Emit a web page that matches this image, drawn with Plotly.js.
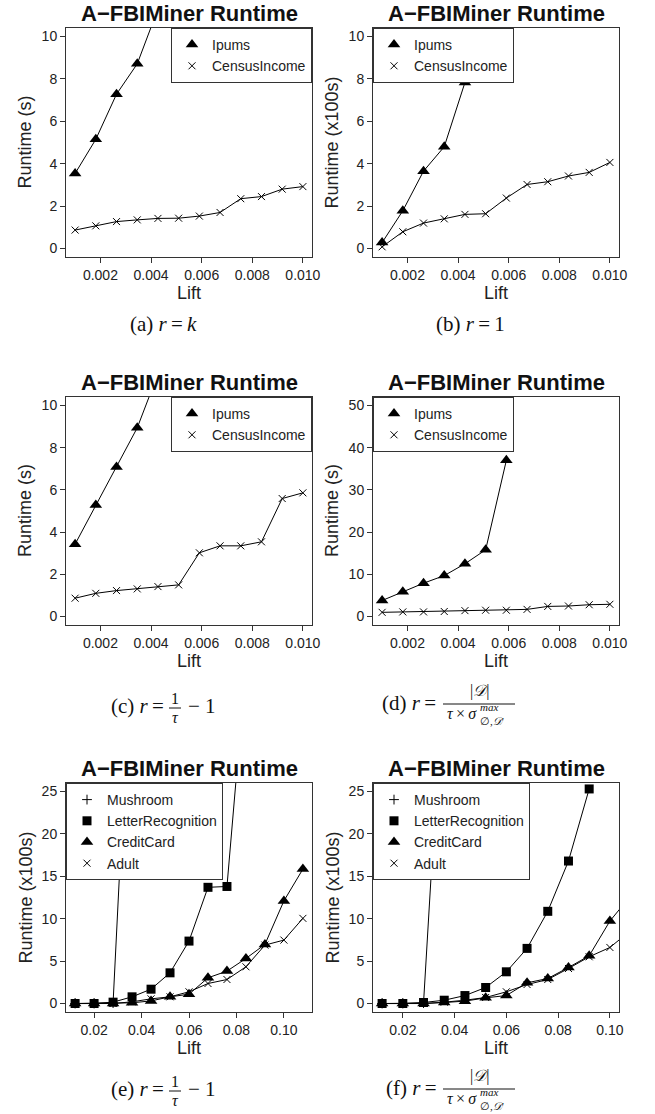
<!DOCTYPE html>
<html>
<head>
<meta charset="utf-8">
<script src="https://cdn.plot.ly/plotly-3.0.1.min.js"></script>
<style>html,body{margin:0;padding:0;background:#fff;}#chart{width:655px;height:1114px;}</style>
</head>
<body>
<div id="chart"></div>
<script>
// ---------------- data ----------------
const liftSmall = [0.001, 0.001818, 0.002636, 0.003455, 0.004273, 0.005091, 0.005909, 0.006727, 0.007545, 0.008364, 0.009182, 0.010];
const liftLarge = [0.012, 0.020, 0.028, 0.036, 0.044, 0.052, 0.060, 0.068, 0.076, 0.084, 0.092, 0.100, 0.108];

const aIpums  = [3.54, 5.15, 7.28, 8.71, 11.3];
const aCensus = [0.87, 1.07, 1.27, 1.35, 1.42, 1.43, 1.53, 1.70, 2.35, 2.45, 2.80, 2.92];
const bIpums  = [0.28, 1.78, 3.65, 4.80, 7.83];
const bCensus = [0.08, 0.79, 1.20, 1.40, 1.61, 1.64, 2.38, 3.02, 3.15, 3.42, 3.59, 4.06];
const cIpums  = [3.43, 5.28, 7.09, 8.94, 11.5];
const cCensus = [0.87, 1.10, 1.23, 1.31, 1.42, 1.50, 3.02, 3.35, 3.35, 3.54, 5.59, 5.86];
const dIpums  = [3.8, 5.9, 7.9, 9.7, 12.5, 15.8, 37.0];
const dCensus = [1.0, 1.1, 1.1, 1.2, 1.4, 1.5, 1.5, 1.7, 2.4, 2.5, 2.8, 2.9];

const eMushroom = [0, 0, 0.05, 45];
const eLetter   = [0, 0, 0.16, 0.79, 1.69, 3.62, 7.36, 13.7, 13.8, 40];
const eCredit   = [0, 0, 0, 0.08, 0.31, 0.79, 1.10, 3.03, 3.82, 5.31, 6.97, 12.1, 15.85];
const eAdult    = [0, 0, 0, 0.2, 0.55, 0.79, 1.38, 2.36, 2.83, 4.33, 6.89, 7.48, 10.04];

const fMushroom = [0, 0, 0.05, 41];
const fLetter   = [0, 0, 0.12, 0.39, 0.94, 1.89, 3.74, 6.5, 10.87, 16.8, 25.3];
const fCredit   = [0, 0, 0, 0.12, 0.28, 0.67, 0.94, 2.44, 2.95, 4.25, 5.63, 9.72, 12.7];
const fAdult    = [0, 0, 0, 0.16, 0.39, 0.71, 1.38, 2.24, 2.83, 4.13, 5.51, 6.61, 8.6];

const chartTitle = "A\u2212FBIMiner Runtime";
const xTitle = "Lift";
const yTitles = ["Runtime (s)", "Runtime (x100s)", "Runtime (s)", "Runtime (s)", "Runtime (x100s)", "Runtime (x100s)"];

// ---------------- layout helpers ----------------
const W = 655, H = 1114;
const px = x => x / W;
const py = y => 1 - y / H;
const SANS = "Liberation Sans, Arial, Helvetica, sans-serif";
const SERIF = "Liberation Serif, Times New Roman, DejaVu Serif, serif";

const panels = [
  {x0: 66,  x1: 312, y0: 28,  y1: 257},
  {x0: 373, x1: 619, y0: 28,  y1: 257},
  {x0: 66,  x1: 312, y0: 397, y1: 625},
  {x0: 373, x1: 619, y0: 397, y1: 625},
  {x0: 66,  x1: 312, y0: 783, y1: 1012},
  {x0: 373, x1: 619, y0: 783, y1: 1012}
];
const xRanges = [[0.00064, 0.01036], [0.00064, 0.01036], [0.00064, 0.01036], [0.00064, 0.01036], [0.00816, 0.11184], [0.00848, 0.10352]];
const yRanges = [[-0.4, 10.4], [-0.4, 10.4], [-0.4, 10.4], [-2, 52], [-1, 26], [-1, 26]];
const xTick = [[0.002, 0.002, '.3f'], [0.002, 0.002, '.3f'], [0.002, 0.002, '.3f'], [0.002, 0.002, '.3f'], [0.02, 0.02, '.2f'], [0.02, 0.02, '.2f']];
const yDtick = [2, 2, 2, 10, 5, 5];
const legendLeft = [false, true, false, true, true, true];

const traces = [];
const SYM = {
  tri:   {symbol: 'triangle-up', size: 11, color: 'black', line: {width: 0}},
  x:     {symbol: 'x-thin-open', size: 7, color: 'black', line: {width: 1, color: 'black'}},
  sq:    {symbol: 'square', size: 9, color: 'black', line: {width: 0}},
  cross: {symbol: 'cross-thin-open', size: 7, color: 'black', line: {width: 1, color: 'black'}}
};

function addSeries(i, name, xs, ys, sym) {
  const k = i === 0 ? '' : String(i + 1);
  const xx = xs.slice(0, ys.length);
  traces.push({type: 'scatter', mode: 'lines', x: xx, y: ys, xaxis: 'x' + k, yaxis: 'y' + k,
    line: {color: 'black', width: 1}, showlegend: false, hoverinfo: 'skip'});
  traces.push({type: 'scatter', mode: 'markers', x: xx, y: ys, xaxis: 'x' + k, yaxis: 'y' + k,
    name: name, legend: 'legend' + k, marker: SYM[sym], showlegend: true, hoverinfo: 'skip'});
}

addSeries(0, 'Ipums', liftSmall, aIpums, 'tri');
addSeries(0, 'CensusIncome', liftSmall, aCensus, 'x');
addSeries(1, 'Ipums', liftSmall, bIpums, 'tri');
addSeries(1, 'CensusIncome', liftSmall, bCensus, 'x');
addSeries(2, 'Ipums', liftSmall, cIpums, 'tri');
addSeries(2, 'CensusIncome', liftSmall, cCensus, 'x');
addSeries(3, 'Ipums', liftSmall, dIpums, 'tri');
addSeries(3, 'CensusIncome', liftSmall, dCensus, 'x');
addSeries(4, 'Mushroom', liftLarge, eMushroom, 'cross');
addSeries(4, 'LetterRecognition', liftLarge, eLetter, 'sq');
addSeries(4, 'CreditCard', liftLarge, eCredit, 'tri');
addSeries(4, 'Adult', liftLarge, eAdult, 'x');
addSeries(5, 'Mushroom', liftLarge, fMushroom, 'cross');
addSeries(5, 'LetterRecognition', liftLarge, fLetter, 'sq');
addSeries(5, 'CreditCard', liftLarge, fCredit, 'tri');
addSeries(5, 'Adult', liftLarge, fAdult, 'x');

const layout = {
  width: W, height: H,
  margin: {l: 0, r: 0, t: 0, b: 0},
  paper_bgcolor: 'white', plot_bgcolor: 'white',
  font: {family: SANS, color: '#222', size: 14},
  showlegend: true,
  annotations: [], shapes: []
};

const axCommon = {
  showline: true, mirror: true, linecolor: '#333', linewidth: 1,
  ticks: 'outside', ticklen: 5, tickwidth: 1, tickcolor: '#333',
  showgrid: false, zeroline: false, fixedrange: true,
  tickfont: {family: SANS, size: 14, color: '#222'}
};

panels.forEach((p, i) => {
  const k = i === 0 ? '' : String(i + 1);
  layout['xaxis' + k] = Object.assign({}, axCommon, {
    domain: [px(p.x0), px(p.x1)], anchor: 'y' + k, range: xRanges[i],
    tick0: xTick[i][0], dtick: xTick[i][1], tickformat: xTick[i][2]
  });
  layout['yaxis' + k] = Object.assign({}, axCommon, {
    domain: [py(p.y1), py(p.y0)], anchor: 'x' + k, range: yRanges[i],
    tick0: 0, dtick: yDtick[i]
  });
  layout['legend' + k] = {
    x: legendLeft[i] ? px(p.x0) : px(p.x1), xanchor: legendLeft[i] ? 'left' : 'right',
    y: py(p.y0), yanchor: 'top',
    bgcolor: 'white', bordercolor: '#333', borderwidth: 1,
    font: {family: SANS, size: 14, color: '#222'},
    tracegroupgap: 0, itemclick: false, itemdoubleclick: false
  };
  const cx = (p.x0 + p.x1) / 2, cy = (p.y0 + p.y1) / 2;
  layout.annotations.push({
    xref: 'paper', yref: 'paper', x: px(cx), y: py(p.y0 - 14.5), xanchor: 'center', yanchor: 'middle',
    text: '<b>' + chartTitle + '</b>', showarrow: false, font: {family: SANS, size: 22, color: '#111'}
  });
  layout.annotations.push({
    xref: 'paper', yref: 'paper', x: px(cx), y: py(p.y1 + 36), xanchor: 'center', yanchor: 'middle',
    text: xTitle, showarrow: false, font: {family: SANS, size: 18, color: '#222'}
  });
  layout.annotations.push({
    xref: 'paper', yref: 'paper', x: px(p.x0 - 41), y: py(cy), xanchor: 'center', yanchor: 'middle',
    text: yTitles[i], textangle: -90, showarrow: false, font: {family: SANS, size: 18, color: '#222'}
  });
});

// ---------------- captions ----------------
function txt(x, y, text, anchor, size) {
  layout.annotations.push({xref: 'paper', yref: 'paper', x: px(x), y: py(y), xanchor: anchor || 'center', yanchor: 'middle',
    text: text, showarrow: false, borderpad: 0, align: 'left',
    font: {family: SERIF, size: size || 21, color: '#111'}});
}
function bar(x0, x1, y) {
  layout.shapes.push({type: 'line', xref: 'paper', yref: 'paper', x0: px(x0), x1: px(x1), y0: py(y), y1: py(y), line: {color: '#111', width: 1}});
}
// (a), (b)
txt(163, 324, '(a) <i>r</i>\u2009=\u2009<i>k</i>');
txt(470, 324, '(b) <i>r</i>\u2009=\u20091');
// (c), (e): r = 1/tau - 1
function capTau(label, dy) {
  txt(165, 1089 + dy, label + ' <i>r</i>\u2009=', 'right');
  txt(175, 1081 + dy, '1', 'center', 16);
  bar(169, 181, 1091 + dy);
  txt(175, 1100 + dy, '<i>\u03C4</i>', 'center', 16);
  txt(187, 1089 + dy, '\u2212 1', 'left');
}
capTau('(c)', -383);
capTau('(e)', 0);
// (d), (f): r = |D| / (tau x sigma^max_{0,D'})
function capD(label, dy) {
  txt(437, 1088 + dy, label + ' <i>r</i>\u2009=', 'right');
  txt(479, 1076 + dy, '|<i>\uD835\uDC9F</i>|', 'center', 16);
  bar(443, 515, 1089 + dy);
  txt(478, 1098 + dy, '<i>\u03C4</i>\u2009\u00D7\u2009<i>\u03C3</i>', 'right', 16);
  txt(479, 1099 + dy, '<i>max</i><br>\u2205,<i>\uD835\uDC9F</i>\u2032', 'left', 11);
}
capD('(d)', -385);
capD('(f)', 0);

Plotly.newPlot('chart', traces, layout, {staticPlot: true, displayModeBar: false});
</script>
</body>
</html>
